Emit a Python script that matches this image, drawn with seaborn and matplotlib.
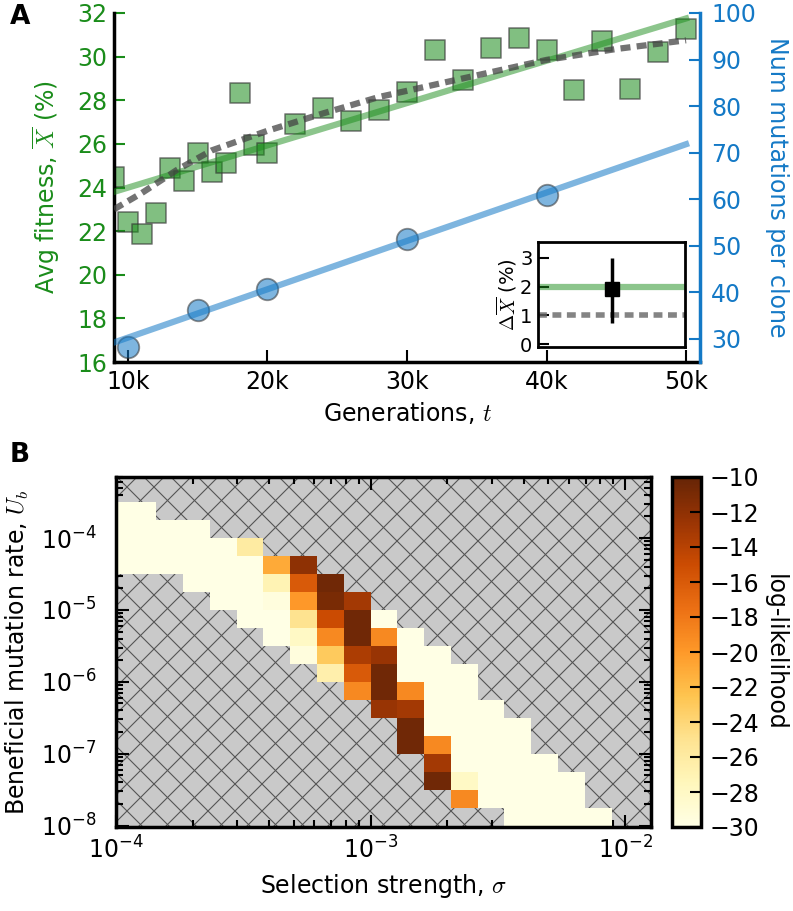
import numpy as np
import matplotlib
matplotlib.use("Agg")
import matplotlib.pyplot as plt
import matplotlib.ticker as mticker
from matplotlib.collections import LineCollection
import seaborn as sns

# ---- panel A data ----
gen_fit = [9000, 10000, 11000, 12000, 13000, 14000, 15000, 16000, 17000, 18000, 19000, 20000,
           22000, 24000, 26000, 28000, 30000, 32000, 34000, 36000, 38000, 40000, 42000, 44000,
           46000, 48000, 50000]
avg_fit = [24.5, 22.44, 21.87, 22.82, 24.89, 24.30, 25.60, 24.73, 25.12, 28.33, 25.96, 25.57,
           26.91, 27.64, 27.07, 27.56, 28.40, 30.32, 28.94, 30.39, 30.85, 30.32, 28.48, 30.70,
           28.51, 30.19, 31.27]
fitline_gen = [9000, 50000]
fitline_val = [23.8, 31.75]
model_gen = [9000, 11000, 13500, 16000, 20000, 24000, 28000, 34000, 40000, 45000, 50000]
model_val = [23.0, 23.75, 24.8, 25.7, 26.6, 27.4, 28.15, 29.0, 29.85, 30.35, 30.75]
mut_gen = [10000, 15000, 20000, 30000, 40000]
mut_num = [28.2, 36.1, 40.7, 51.5, 60.8]
mutline_gen = [9000, 50000]
mutline_val = [29.2, 71.8]
gen_ticks = [10000, 20000, 30000, 40000, 50000]

# inset
delta_fit = 2.0
delta_model = 1.0
delta_obs = 1.9
delta_err = [[1.15], [1.1]]

# ---- panel B data: log-likelihood grid (rows top -> bottom), N = not sampled ----
N = np.nan
W = -35.0
loglik = [
    [W, W, N, N, N, N, N, N, N, N, N, N, N, N, N, N, N, N, N, N],
    [W, W, W, W, N, N, N, N, N, N, N, N, N, N, N, N, N, N, N, N],
    [W, W, W, W, W, -26, N, N, N, N, N, N, N, N, N, N, N, N, N, N],
    [W, W, W, W, W, W, -21, -12, N, N, N, N, N, N, N, N, N, N, N, N],
    [N, N, N, W, W, W, -27, -16, -10.5, N, N, N, N, N, N, N, N, N, N, N],
    [N, N, N, N, W, W, -29.5, -20, -11, -13, N, N, N, N, N, N, N, N, N, N],
    [N, N, N, N, N, W, W, -25, -15, -10.5, W, N, N, N, N, N, N, N, N, N],
    [N, N, N, N, N, N, W, -28, -19, -10.5, -19, W, N, N, N, N, N, N, N, N],
    [N, N, N, N, N, N, N, -29.5, -23, -13.5, -12.5, W, W, N, N, N, N, N, N, N],
    [N, N, N, N, N, N, N, N, -26.5, -16, -10.5, W, W, W, N, N, N, N, N, N],
    [N, N, N, N, N, N, N, N, N, -19, -10.5, -19, W, W, N, N, N, N, N, N],
    [N, N, N, N, N, N, N, N, N, N, -12.5, -13, W, W, W, N, N, N, N, N],
    [N, N, N, N, N, N, N, N, N, N, N, -10.5, W, W, W, W, N, N, N, N],
    [N, N, N, N, N, N, N, N, N, N, N, -10.5, -19, W, W, W, N, N, N, N],
    [N, N, N, N, N, N, N, N, N, N, N, N, -13, W, W, W, W, N, N, N],
    [N, N, N, N, N, N, N, N, N, N, N, N, -10.5, -28, W, W, W, W, N, N],
    [N, N, N, N, N, N, N, N, N, N, N, N, N, -19, W, W, W, W, N, N],
    [N, N, N, N, N, N, N, N, N, N, N, N, N, N, N, W, W, W, W, N],
]
sigma_lo, sigma_hi, n_sigma = -4.0, -2.0, 20   # log10 of grid centres
ub_lo, ub_step = -8.0, 0.25                    # log10 of lower row edge
cbar_ticks = list(range(-30, -9, 2))

GREEN = "#1a8c1a"
BLUE = "#1479c6"
FS = 17

plt.rcParams["font.size"] = FS
plt.rcParams["mathtext.fontset"] = "cm"
plt.rcParams["axes.linewidth"] = 2.5

fig = plt.figure(figsize=(7.93, 9.11), dpi=100)
FW, FH = 793, 911
def box(x0, y0, x1, y1):
    return [x0 / FW, 1 - y1 / FH, (x1 - x0) / FW, (y1 - y0) / FH]

# ================= panel A =================
ax1 = fig.add_axes(box(114, 13, 700, 362))
sns.scatterplot(x=gen_fit, y=avg_fit, marker="s", s=190, color=GREEN, alpha=0.55,
                edgecolor="#333333", linewidth=1.3, ax=ax1, zorder=2)
sns.lineplot(x=fitline_gen, y=fitline_val, color=GREEN, alpha=0.5, lw=4.5, ax=ax1, zorder=3)
sns.lineplot(x=model_gen, y=model_val, color="#444444", alpha=0.75, lw=4.5,
             linestyle=(0, (1.6, 1.0)), ax=ax1, zorder=4)
for coll in ax1.collections:
    coll.set_clip_on(True)
    coll.set_clip_path(ax1.patch)
ax1.set_xlim(9000, 51000)
ax1.set_ylim(16, 32)
ax1.set_xticks(gen_ticks)
ax1.xaxis.set_major_formatter(mticker.FuncFormatter(lambda v, p: f"{int(v / 1000)}k"))
ax1.set_yticks(range(16, 33, 2))
ax1.tick_params(axis="x", direction="in", length=9, width=1.5, top=False, pad=6)
ax1.tick_params(axis="y", direction="in", length=8, width=1.5, colors=GREEN, pad=5)
ax1.spines["top"].set_visible(False)
ax1.spines["right"].set_visible(False)
ax1.set_xlabel("Generations, $t$", labelpad=4)
ax1.set_ylabel(r"Avg fitness, $\overline{X}$ (%)", color=GREEN, labelpad=11)

ax1r = ax1.twinx()
sns.scatterplot(x=mut_gen, y=mut_num, marker="o", s=240, color=BLUE, alpha=0.55,
                edgecolor="#333333", linewidth=1.3, ax=ax1r, zorder=2)
sns.lineplot(x=mutline_gen, y=mutline_val, color=BLUE, alpha=0.55, lw=4.5, ax=ax1r, zorder=3)
ax1r.set_ylim(25, 100)
ax1r.set_yticks(range(30, 101, 10))
ax1r.tick_params(axis="y", direction="in", length=8, width=1.5, colors=BLUE, pad=8)
for s in ["top", "left", "bottom"]:
    ax1r.spines[s].set_visible(False)
ax1r.spines["right"].set_color(BLUE)
ax1r.set_ylabel("Num mutations per clone", color=BLUE, rotation=270, labelpad=24)
ax1.set_xlim(9000, 51000)

# inset
axi = fig.add_axes(box(538, 242, 685, 347))
axi.axhline(delta_fit, color=GREEN, alpha=0.5, lw=4.5)
axi.axhline(delta_model, color="#666666", alpha=0.8, lw=4.0, linestyle=(0, (1.6, 1.0)))
axi.errorbar([0.5], [delta_obs], yerr=delta_err, fmt="s", color="black", ms=10, lw=2.5,
             capsize=0)
axi.set_xlim(0, 1)
axi.set_ylim(-0.1, 3.55)
axi.set_xticks([])
axi.set_yticks([0, 1, 2, 3])
axi.tick_params(axis="y", direction="in", length=8, width=1.5, labelsize=14, pad=4)
for sp in axi.spines.values():
    sp.set_linewidth(2)
axi.set_ylabel(r"$\Delta\overline{X}$ (%)", fontsize=14, labelpad=1)

fig.text(10 / FW, 1 - 4 / FH, "A", fontsize=19, fontweight="bold", va="top")

# ================= panel B =================
ax2 = fig.add_axes(box(116, 477, 651, 827))
ax2.set_facecolor("#c9c9c9")
step = (sigma_hi - sigma_lo) / (n_sigma - 1)
x_edges = 10 ** (sigma_lo - step / 2 + step * np.arange(n_sigma + 1))
grid = np.flipud(np.array(loglik, dtype=float))
y_edges = 10 ** (ub_lo + ub_step * np.arange(grid.shape[0] + 1))
mesh = ax2.pcolormesh(x_edges, y_edges, np.ma.masked_invalid(grid), cmap="YlOrBr",
                      vmin=-30, vmax=-10, zorder=2)
ax2.set_xscale("log")
ax2.set_yscale("log")
ax2.set_xlim(1e-4, 10 ** -1.898)
ax2.set_ylim(10 ** -8.02, 10 ** -3.15)

# cross-hatched background for unsampled region
pw, ph, sp_px = 535.0, 350.0, 27.0
segs = []
for c in np.arange(-pw, ph + sp_px, sp_px):
    segs.append([(0, c / ph), (1, (c + pw) / ph)])
for c in np.arange(0, pw + ph + sp_px, sp_px):
    segs.append([(0, c / ph), (1, (c - pw) / ph)])
lc = LineCollection(segs, colors="#555555", linewidths=0.8, transform=ax2.transAxes, zorder=1)
ax2.add_collection(lc)

ax2.tick_params(which="both", direction="in", top=True, right=True, width=1.5)
ax2.tick_params(which="major", length=9)
ax2.tick_params(axis="x", which="major", pad=7)
ax2.tick_params(axis="y", which="major", pad=14)
ax2.tick_params(which="minor", length=5)
ax2.set_xlabel(r"Selection strength, $\sigma$", labelpad=6)
ax2.set_ylabel(r"Beneficial mutation rate, $U_b$", labelpad=7)

cax = fig.add_axes(box(672, 477, 701, 827))
cb = fig.colorbar(mesh, cax=cax, ticks=cbar_ticks)
cb.outline.set_linewidth(2.5)
cax.tick_params(direction="in", length=8, width=1.5, pad=6, labelsize=17)
cb.set_label("log-likelihood", rotation=270, labelpad=20)

fig.text(10 / FW, 1 - 442 / FH, "B", fontsize=19, fontweight="bold", va="top")

fig.savefig("out.png", dpi=100)
